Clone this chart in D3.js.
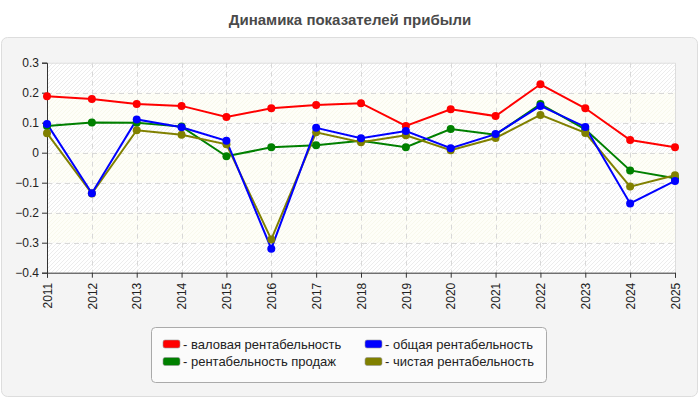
<!DOCTYPE html>
<html>
<head>
<meta charset="utf-8">
<script src="https://cdn.jsdelivr.net/npm/d3@7"></script>
<style>
  body { margin: 0; background: #fff; }
  svg { display: block; font-family: "Liberation Sans", Arial, sans-serif; }
</style>
</head>
<body>
<div id="chart"></div>
<script>
const years = ["2011", "2012", "2013", "2014", "2015", "2016", "2017", "2018", "2019", "2020", "2021", "2022", "2023", "2024", "2025"];
const gross = [0.188, 0.179, 0.162, 0.156, 0.119, 0.148, 0.159, 0.165, 0.089, 0.145, 0.122, 0.228, 0.148, 0.042, 0.018];
const total = [0.096, -0.135, 0.111, 0.085, 0.040, -0.320, 0.083, 0.048, 0.072, 0.015, 0.062, 0.156, 0.086, -0.169, -0.094];
const sales = [0.089, 0.101, 0.100, 0.087, -0.012, 0.018, 0.025, 0.040, 0.018, 0.079, 0.060, 0.162, 0.078, -0.059, -0.085];
const net = [0.065, -0.136, 0.075, 0.060, 0.028, -0.289, 0.068, 0.035, 0.058, 0.008, 0.049, 0.126, 0.066, -0.113, -0.075];
const yTicks = [0.3, 0.2, 0.1, 0, -0.1, -0.2, -0.3, -0.4];

const seriesNames = ["валовая рентабельность", "общая рентабельность", "рентабельность продаж", "чистая рентабельность"];
const seriesColors = ["#ff0000", "#0000ff", "#008000", "#808000"];
// drawing order (blue ends up on top)
const series = [
  { name: seriesNames[0], color: seriesColors[0], values: gross },
  { name: seriesNames[2], color: seriesColors[2], values: sales },
  { name: seriesNames[3], color: seriesColors[3], values: net },
  { name: seriesNames[1], color: seriesColors[1], values: total }
];

const width = 700, height = 400;
const plot = { left: 47, right: 675, top: 62.7, bottom: 272.7 };

const svg = d3.select("#chart").append("svg").attr("width", width).attr("height", height);

// hatch patterns for the alternating bands
const defs = svg.append("defs");
const hatchA = defs.append("pattern").attr("id", "hatchA").attr("patternUnits", "userSpaceOnUse")
  .attr("width", 4).attr("height", 4);
hatchA.append("rect").attr("width", 4).attr("height", 4).attr("fill", "#ffffff");
hatchA.append("path").attr("d", "M-1,1 l2,-2 M0,4 l4,-4 M3,5 l2,-2").attr("stroke", "#ececec").attr("stroke-width", 1);
const hatchB = defs.append("pattern").attr("id", "hatchB").attr("patternUnits", "userSpaceOnUse")
  .attr("width", 4).attr("height", 4);
hatchB.append("rect").attr("width", 4).attr("height", 4).attr("fill", "#fefef8");
hatchB.append("path").attr("d", "M-1,1 l2,-2 M0,4 l4,-4 M3,5 l2,-2").attr("stroke", "#f8f8ec").attr("stroke-width", 1);

// panel
svg.append("rect")
  .attr("x", 1.5).attr("y", 37.5).attr("width", 696).attr("height", 359)
  .attr("rx", 6).attr("fill", "#f4f4f4").attr("stroke", "#dddddd");

svg.append("text")
  .attr("x", width / 2).attr("y", 25)
  .attr("text-anchor", "middle")
  .attr("font-size", "15px").attr("font-weight", "bold")
  .attr("fill", "#4a4a4a")
  .text("Динамика показателей прибыли");

const x = d3.scalePoint().domain(years).range([plot.left, plot.right]);
const y = d3.scaleLinear().domain([-0.4, 0.3]).range([plot.bottom, plot.top]);

// bands
const bands = yTicks.slice(0, -1);
svg.append("g").selectAll("rect").data(bands).join("rect")
  .attr("x", plot.left).attr("width", plot.right - plot.left)
  .attr("y", d => y(d))
  .attr("height", d => y(d - 0.1) - y(d))
  .attr("fill", (d, i) => i % 2 === 0 ? "url(#hatchA)" : "url(#hatchB)");

// grid
svg.append("g").selectAll("line").data(yTicks.slice(1, -1)).join("line")
  .attr("x1", plot.left).attr("x2", plot.right)
  .attr("y1", d => Math.round(y(d)) + 0.5).attr("y2", d => Math.round(y(d)) + 0.5)
  .attr("stroke", "#d8d8d8").attr("stroke-dasharray", "5,4");
svg.append("g").selectAll("line").data(years.slice(1, -1)).join("line")
  .attr("x1", d => Math.round(x(d)) + 0.5).attr("x2", d => Math.round(x(d)) + 0.5)
  .attr("y1", plot.top).attr("y2", plot.bottom)
  .attr("stroke", "#d8d8d8").attr("stroke-dasharray", "5,4");

// top/right border
svg.append("path")
  .attr("d", `M${plot.left},${plot.top + 0.5}H${plot.right + 0.5}V${plot.bottom}`)
  .attr("fill", "none").attr("stroke", "#dddddd");

// axes
const yAxis = svg.append("g")
  .attr("transform", `translate(${plot.left},0)`)
  .call(d3.axisLeft(y).tickValues(yTicks).tickSize(5).tickPadding(3).tickFormat(d => d3.format("")(+d.toFixed(1))));
const xAxis = svg.append("g")
  .attr("transform", `translate(0,${plot.bottom})`)
  .call(d3.axisBottom(x).tickSize(5).tickPadding(3));
[xAxis, yAxis].forEach(a => {
  a.select(".domain").attr("stroke", "#333");
  a.selectAll(".tick line").attr("stroke", "#333");
  a.selectAll("text").attr("font-size", "12px").attr("fill", "#222")
    .attr("font-family", "'Liberation Sans', Arial, sans-serif");
});
xAxis.selectAll("text")
  .attr("transform", "rotate(-90)")
  .attr("text-anchor", "end")
  .attr("x", -10).attr("y", 0).attr("dy", "0.35em");

// lines
const line = d3.line().x((d, i) => x(years[i])).y(d => y(d));
const lines = svg.append("g");
series.forEach(s => {
  lines.append("path").datum(s.values)
    .attr("d", line).attr("fill", "none")
    .attr("stroke", s.color).attr("stroke-width", 2);
});
series.forEach(s => {
  lines.append("g").selectAll("circle").data(s.values).join("circle")
    .attr("cx", (d, i) => x(years[i])).attr("cy", d => y(d))
    .attr("r", 4).attr("fill", s.color);
});

// legend
const legend = svg.append("g");
legend.append("rect")
  .attr("x", 151.5).attr("y", 327.5).attr("width", 395).attr("height", 55)
  .attr("rx", 4).attr("fill", "#fbfbfb").attr("stroke", "#aaaaaa");
const legendItems = [
  { name: seriesNames[0], color: seriesColors[0], col: 0, row: 0 },
  { name: seriesNames[1], color: seriesColors[1], col: 1, row: 0 },
  { name: seriesNames[2], color: seriesColors[2], col: 0, row: 1 },
  { name: seriesNames[3], color: seriesColors[3], col: 1, row: 1 }
];
const li = legend.selectAll("g.item").data(legendItems).join("g")
  .attr("class", "item")
  .attr("transform", d => `translate(${163 + d.col * 202},${344 + d.row * 17.5})`);
li.append("rect")
  .attr("x", 0).attr("y", -4).attr("width", 17).attr("height", 8)
  .attr("rx", 2).attr("fill", d => d.color).attr("stroke", "#999").attr("stroke-width", 0.6);
li.append("text")
  .attr("x", 20).attr("y", 0).attr("dy", "0.35em")
  .attr("font-size", "13px").attr("fill", "#222")
  .text(d => "- " + d.name);
</script>
</body>
</html>
